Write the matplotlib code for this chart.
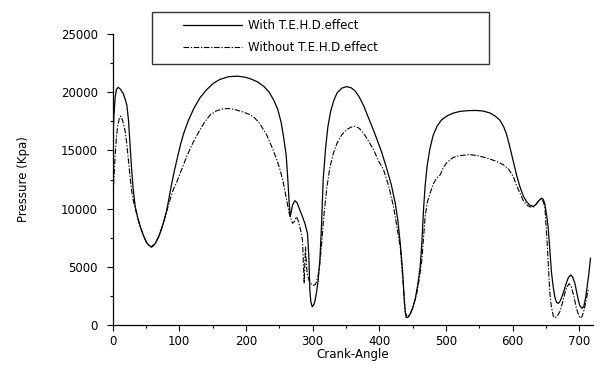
import matplotlib
matplotlib.use("Agg")
import matplotlib.pyplot as plt
from matplotlib.patches import Rectangle

# crank angle (deg) / pressure (kPa)
angle_with = [0, 2, 4, 6, 8.5, 12, 16, 19, 21.5, 24, 26.5, 28.5, 31, 34, 38, 42, 47, 52, 58,
              64, 70, 76, 81.5, 86, 89, 93, 97, 102, 107, 114, 122, 131, 141, 151, 161, 174,
              187, 198, 207, 217, 227, 235, 242, 248, 253, 257, 260.5, 263, 265, 266.5, 268,
              270, 273.5, 277, 281, 285, 288.5, 292.5, 294.5, 296, 297.5, 299.5, 301.5, 303.5,
              306, 308.5, 311, 313.5, 316, 319.5, 323, 327, 332, 337, 344, 351, 358, 364, 370,
              377, 384, 391, 397, 404, 411, 418, 424, 428, 432, 435, 437.5, 439, 440.5, 443,
              446, 450, 454, 458, 461.5, 464, 466.5, 469, 472, 476, 481, 487, 494, 503, 511,
              521, 534, 546, 556, 566, 574, 581, 587, 591, 596, 601, 606, 611, 616, 621, 626,
              631, 635, 639, 643.5, 646, 648.5, 651, 653.5, 656, 658.5, 661, 663.5, 666, 668.5,
              671, 674, 677, 681, 684, 687.5, 690, 693.5, 696, 698.5, 701, 704.5, 707, 709.5,
              712, 714.5, 717]
p_with = [15000, 17800, 19600, 20250, 20420, 20250, 19900, 19400, 18900, 17600, 15300, 13500,
          11700, 10200, 9200, 8400, 7600, 7000, 6700, 7000, 7700, 8700, 9900, 11300, 12200,
          13300, 14300, 15500, 16500, 17600, 18600, 19500, 20200, 20750, 21100, 21330, 21380,
          21300, 21150, 20900, 20500, 20000, 19300, 18500, 17400, 16000, 14600, 12500, 10500,
          9300, 9700, 10300, 10680, 10500, 9880, 9300, 8740, 7880, 5870, 3000, 2000, 1570,
          1700, 2000, 2800, 3870, 5500, 8500, 12460, 15100, 17000, 18300, 19300, 19950, 20350,
          20480, 20380, 20100, 19600, 18800, 17800, 16800, 15900, 14800, 13500, 12100, 10500,
          9000, 6800, 4700, 2300, 1200, 650, 650, 900, 1400, 2200, 3500, 5000, 7000, 9900,
          12000, 13700, 15100, 16300, 17100, 17650, 18000, 18200, 18350, 18420, 18430, 18380,
          18220, 17950, 17600, 17000, 16400, 15300, 14100, 12900, 11900, 11100, 10600, 10300,
          10180, 10350, 10650, 10900, 10800, 10400, 9500, 8400, 6500, 4500, 3300, 2400, 1950,
          1860, 2000, 2400, 2900, 3650, 4100, 4300, 4150, 3600, 2900, 2200, 1650, 1430, 1600,
          2300, 3300, 4400, 5730]

angle_without = [0, 2, 4, 6, 8, 10.5, 12.5, 15, 18.5, 21, 23.5, 26, 28.5, 31.5, 35, 40, 45, 50,
                 55, 59, 64, 70, 76, 81, 86, 91, 96.5, 104, 111.5, 121, 131.5, 139, 146.5, 156,
                 166, 176, 186, 196, 206, 213, 221, 231.5, 239, 246.5, 251.5, 256, 261, 265,
                 270, 273, 276, 279, 281, 285, 286.5, 287.5, 288.5, 289.5, 290.5, 292, 295,
                 298.5, 301.5, 304.5, 308, 311, 313.5, 316, 318.5, 322, 326, 331, 337, 344,
                 351.5, 358, 364, 370, 376.5, 384, 391.5, 399, 406.5, 414, 421.5, 427, 431.5,
                 434.5, 436.5, 438, 439.5, 442.5, 446, 449, 453, 456.5, 460, 464, 467, 469, 472,
                 476.5, 481, 486, 491.5, 496, 501, 511, 521, 536, 548, 561, 574, 586, 594, 601,
                 606, 611, 616, 621, 626, 631, 635, 638.5, 641, 643.5, 646, 648.5, 650, 652, 654,
                 656, 658, 661, 664, 667, 671, 675, 678.5, 681, 685, 688, 692, 696, 701, 704,
                 706.5, 709, 711, 713.5]
p_without = [10300, 12500, 14600, 16200, 17200, 17800, 17950, 17600, 16800, 15800, 14400, 12900,
             11600, 10600, 9800, 8700, 7900, 7200, 6800, 6700, 6950, 7650, 8650, 9700, 10700,
             11600, 12300, 13400, 14500, 15700, 16800, 17500, 18050, 18400, 18570, 18600, 18470,
             18300, 18080, 17800, 17300, 16300, 15300, 14200, 13300, 12300, 10800, 9600, 8740,
             8900, 9300, 8900, 8450, 7300, 5000, 3600, 5300, 6700, 5600, 4400, 3800, 3500, 3400,
             3500, 4100, 5300, 6800, 8700, 10200, 12000, 13500, 14700, 15650, 16350, 16800,
             17000, 17080, 16900, 16500, 15800, 15070, 14100, 13350, 12000, 10190, 8300, 6740,
             4700, 3300, 1800, 1000, 720, 850, 1290, 2000, 2730, 3900, 5600, 7800, 9330, 10500,
             11340, 12100, 12600, 12900, 13500, 13920, 14400, 14550, 14640, 14550, 14350,
             14100, 13780, 13400, 12770, 12000, 11340, 10700, 10330, 10150, 10130, 10350,
             10620, 10750, 10820, 10600, 10190, 8800, 7030, 4800, 2730, 1700, 800, 600, 750,
             1150, 1900, 2730, 3200, 3550, 3300, 2500, 1400, 600, 700, 1100, 1700, 2300, 3000]

labels = ["With T.E.H.D.effect", "Without T.E.H.D.effect"]

plt.rcParams['font.family'] = 'DejaVu Sans'
fig = plt.figure(figsize=(6.06, 3.81), dpi=100)
ax = fig.add_axes([112.5 / 606, 56 / 381, 480 / 606, 291 / 381])

l1, = ax.plot(angle_with, p_with, color='black', lw=0.9, label=labels[0])
l2, = ax.plot(angle_without, p_without, color='black', lw=0.8,
              dashes=[5, 1.5, 1.2, 1.5], label=labels[1])

ax.set_xlim(0, 720)
ax.set_ylim(0, 25000)
ax.set_xticks(range(0, 701, 100))
ax.set_xticks(range(50, 701, 100), minor=True)
ax.set_yticks(range(0, 25001, 5000))
ax.set_yticks(range(2500, 25000, 5000), minor=True)
for s in ['top', 'right']:
    ax.spines[s].set_visible(False)
for s in ['left', 'bottom']:
    ax.spines[s].set_linewidth(0.9)
ax.tick_params(which='major', direction='out', length=4.5, width=0.8, labelsize=8.5)
ax.tick_params(axis='x', which='major', pad=2.5)
ax.tick_params(axis='y', which='major', pad=6)
ax.tick_params(which='minor', direction='out', length=2.3, width=0.8)

ax.set_xlabel("Crank-Angle", fontsize=8.5, va='center')
ax.set_ylabel("Pressure (Kpa)", fontsize=8.5)
ax.xaxis.set_label_coords(0.5, -0.103)
ax.yaxis.set_label_coords(-0.172, 0.5)

# legend box sits partly above the axes
fig.add_artist(Rectangle((152 / 606, 1 - 64 / 381), 337 / 606, 52 / 381,
                         transform=fig.transFigure, fill=False, ec='#333333', lw=1))
fig.legend(handles=[l1, l2], loc='upper left', bbox_to_anchor=(183 / 606, 1 - 19 / 381),
           frameon=False, borderpad=0, borderaxespad=0, handlelength=5,
           handletextpad=0.5, labelspacing=0.75, fontsize=8.5)

fig.savefig("out.png", dpi=100)
